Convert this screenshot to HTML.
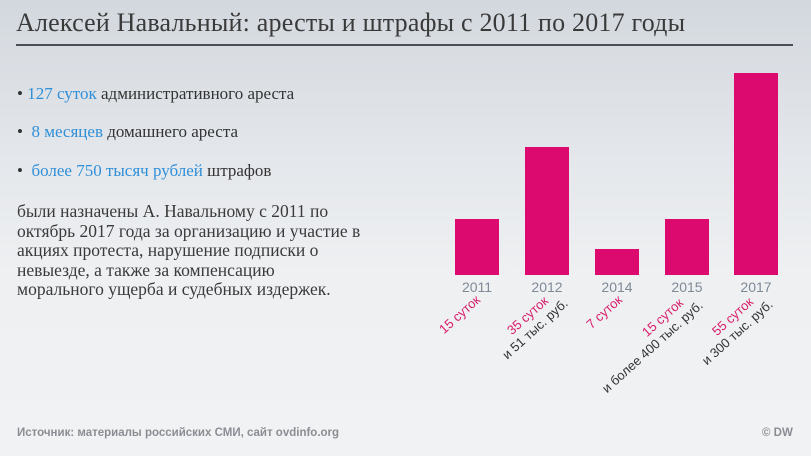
<!DOCTYPE html>
<html><head><meta charset="utf-8"><style>
body{margin:0}
#c{position:relative;width:811px;height:456px;overflow:hidden;background:linear-gradient(180deg,#d3d8de 0%,#e4e7eb 35%,#eef0f2 60%,#f1f2f4 100%);font-family:"Liberation Serif","DejaVu Serif",serif;color:#333}
.t{position:absolute;left:16px;top:8px;font-size:26px;letter-spacing:0.2px;color:#3a3a3a;white-space:nowrap}
.ln{position:absolute;left:16px;top:44px;width:777px;height:2px;background:#4a4f55}
.b{position:absolute;left:17px;font-size:17px;white-space:nowrap;color:#333}
.b span{color:#2f8fd8}
.p{position:absolute;left:17px;top:202px;font-size:17.5px;line-height:19.5px;color:#3a3a3a;white-space:nowrap}
.f{position:absolute;top:427px;font-family:"Liberation Sans",sans-serif;font-weight:bold;font-size:11.5px;color:#8a8e93}
</style></head><body><div id="c">
<div class="t">Алексей Навальный: аресты и штрафы с 2011 по 2017 годы</div>
<div class="ln"></div>
<div class="b" style="top:84px">• <span>127 суток</span> административного ареста</div>
<div class="b" style="top:122px">• &nbsp;<span>8 месяцев</span> домашнего ареста</div>
<div class="b" style="top:161px">• &nbsp;<span>более 750 тысяч рублей</span> штрафов</div>
<div class="p">были назначены А. Навальному с 2011 по<br>октябрь 2017 года за организацию и участие в<br>акциях протеста, нарушение подписки о<br>невыезде, а также за компенсацию<br>морального ущерба и судебных издержек.</div>
<div class="f" style="left:17px">Источник: материалы российских СМИ, сайт ovdinfo.org</div>
<div class="f" style="left:762px">© DW</div>
<svg style="position:absolute;left:0;top:0" width="811" height="456" font-family="Liberation Sans, sans-serif">
<g fill="#dc0a6e">
<rect x="455" y="219" width="44" height="56"/>
<rect x="525" y="147" width="44" height="128"/>
<rect x="595" y="249" width="44" height="26"/>
<rect x="665" y="219" width="44" height="56"/>
<rect x="734" y="73" width="44" height="202"/>
</g>
<g fill="#7f8a96" font-size="14" text-anchor="middle">
<text x="477" y="292">2011</text><text x="547" y="292">2012</text><text x="617" y="292">2014</text><text x="687" y="292">2015</text><text x="756" y="292">2017</text>
</g>
<g font-size="13" text-anchor="end">
<text transform="translate(481,301) rotate(-42)" fill="#d81b6a">15 суток</text>
<g transform="translate(549,302) rotate(-42)"><text fill="#d81b6a">35 суток</text><text x="13" y="15" fill="#333">и 51 тыс. руб.</text></g>
<text transform="translate(623,301) rotate(-42)" fill="#d81b6a">7 суток</text>
<g transform="translate(684,304) rotate(-42)"><text fill="#d81b6a">15 суток</text><text x="13" y="15" fill="#333">и более 400 тыс. руб.</text></g>
<g transform="translate(754,303) rotate(-42)"><text fill="#d81b6a">55 суток</text><text x="13" y="15" fill="#333">и 300 тыс. руб.</text></g>
</g>
</svg>
</div></body></html>
